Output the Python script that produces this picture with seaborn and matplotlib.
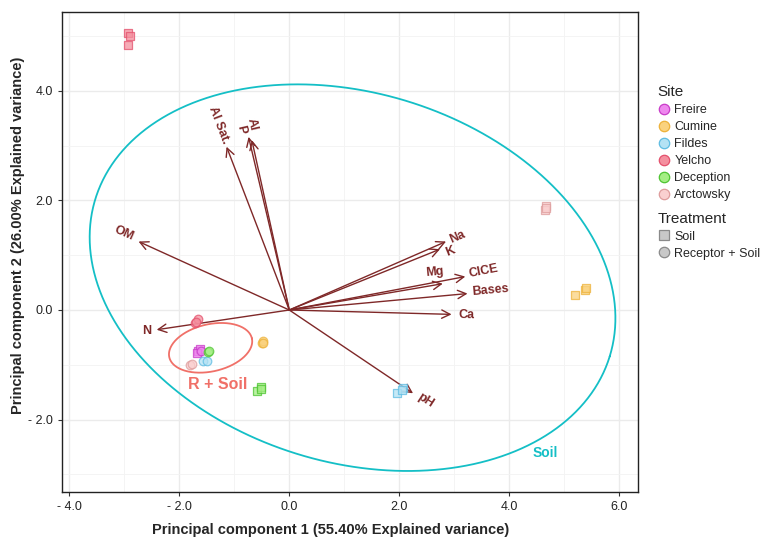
import numpy as np
import pandas as pd
import matplotlib
matplotlib.use("Agg")
import matplotlib.pyplot as plt
import seaborn as sns
from matplotlib.lines import Line2D
from matplotlib.ticker import MultipleLocator, FuncFormatter

# sample scores
sites = ["Freire", "Cumine", "Fildes", "Yelcho", "Deception", "Arctowsky"]
site_fill = ["#EE88EE", "#FAD27E", "#B4E2F4", "#F4909F", "#A4EE84", "#FAD0D0"]
site_edge = ["#C83CC8", "#EDB23A", "#5EBCE2", "#E4506C", "#4EC432", "#DE9C9C"]

point_site = ["Yelcho", "Yelcho", "Yelcho",
              "Arctowsky", "Arctowsky", "Arctowsky",
              "Cumine", "Cumine", "Cumine",
              "Fildes", "Fildes", "Fildes",
              "Deception", "Deception", "Deception",
              "Freire", "Freire", "Freire",
              "Freire", "Yelcho", "Yelcho", "Yelcho",
              "Deception", "Deception", "Fildes", "Fildes",
              "Arctowsky", "Arctowsky", "Cumine", "Cumine", "Cumine"]
point_treat = ["Soil"] * 18 + ["Receptor + Soil"] * 13
pc1 = [-2.94, -2.90, -2.94, 4.66, 4.64, 4.67, 5.19, 5.38, 5.40,
       2.06, 1.95, 2.05, -0.58, -0.52, -0.52, -1.65, -1.62, -1.67,
       -1.60, -1.72, -1.65, -1.70, -1.48, -1.45, -1.57, -1.50,
       -1.81, -1.77, -0.49, -0.47, -0.48]
pc2 = [5.05, 5.00, 4.84, 1.89, 1.83, 1.87, 0.28, 0.36, 0.41,
       -1.43, -1.52, -1.46, -1.48, -1.41, -1.45, -0.75, -0.72, -0.78,
       -0.74, -0.24, -0.16, -0.22, -0.77, -0.74, -0.93, -0.93,
       -1.00, -0.99, -0.60, -0.57, -0.60]

# variable loadings (arrow tips) and label positions
var_names = ["OM", "N", "Na", "K", "Mg", "CICE", "Bases", "Ca", "pH", "Al Sat.", "Al", "P"]
load1 = [-2.74, -2.41, 2.85, 2.74, 2.79, 3.20, 3.24, 2.95, 2.25, -1.14, -0.74, -0.68]
load2 = [1.25, -0.36, 1.25, 1.11, 0.48, 0.61, 0.30, -0.08, -1.52, 2.98, 3.16, 3.10]
lab1 = [-3.00, -2.60, 3.05, 2.93, 2.64, 3.54, 3.66, 3.22, 2.47, -1.28, -0.67, -0.87]
lab2 = [1.40, -0.39, 1.33, 1.07, 0.69, 0.70, 0.35, -0.09, -1.65, 3.38, 3.38, 3.29]
lab_rot = [-24, 0, 23, 22, 5, 11, 5, -1, -33, -69, -77, -77]

# group ellipses: center x, center y, semi-major, semi-minor, angle
soil_ell = [1.15, 0.59, 4.89, 3.37, -17.1]
rsoil_ell = [-1.43, -0.69, 0.77, 0.43, 13.0]

df = pd.DataFrame({"site": point_site, "treatment": point_treat, "PC1": pc1, "PC2": pc2})

sns.set_style("whitegrid")
plt.rcParams["font.family"] = ["Liberation Sans", "DejaVu Sans"]

fig = plt.figure(figsize=(7.63, 5.4), dpi=100)
ax = fig.add_axes([0.0813, 0.089, 0.755, 0.889])

arrow_col = "#7F2828"


def ellipse_xy(p):
    t = np.linspace(0, 2 * np.pi, 200)
    a = np.deg2rad(p[4])
    ex = p[2] * np.cos(t)
    ey = p[3] * np.sin(t)
    return (p[0] + ex * np.cos(a) - ey * np.sin(a),
            p[1] + ex * np.sin(a) + ey * np.cos(a))


ex, ey = ellipse_xy(soil_ell)
ax.plot(ex, ey, color="#14BFC6", lw=1.3, zorder=2)
ex, ey = ellipse_xy(rsoil_ell)
ax.plot(ex, ey, color="#F07068", lw=1.3, zorder=2)

for i, name in enumerate(var_names):
    ax.annotate("", xy=(load1[i], load2[i]), xytext=(0, 0),
                arrowprops=dict(arrowstyle="->", color=arrow_col, lw=1.0,
                                mutation_scale=15, shrinkA=0, shrinkB=0),
                zorder=3)
    ax.text(lab1[i], lab2[i], name, color=arrow_col, fontsize=9, fontweight="bold",
            rotation=lab_rot[i], ha="center", va="center", rotation_mode="anchor", zorder=4)

markers = {"Soil": "s", "Receptor + Soil": "o"}
for s, fc, ec in zip(sites, site_fill, site_edge):
    sub = df[df["site"] == s]
    for tr, mk in markers.items():
        part = sub[sub["treatment"] == tr]
        if len(part) == 0:
            continue
        sns.scatterplot(data=part, x="PC1", y="PC2", marker=mk, s=38,
                        color=fc, edgecolor=ec, linewidth=0.9, alpha=0.75,
                        ax=ax, legend=False, zorder=5)

ax.text(-1.30, -1.36, "R + Soil", color="#F07068", fontsize=11.5, fontweight="bold",
        ha="center", va="center")
ax.text(4.66, -2.61, "Soil", color="#14BFC6", fontsize=10, fontweight="bold",
        ha="center", va="center")

ax.set_xlim(-4.13, 6.34)
ax.set_ylim(-3.32, 5.44)
ax.xaxis.set_major_locator(MultipleLocator(2))
ax.yaxis.set_major_locator(MultipleLocator(2))
ax.xaxis.set_minor_locator(MultipleLocator(1))
ax.yaxis.set_minor_locator(MultipleLocator(1))
fmt = FuncFormatter(lambda v, p: ("- %.1f" % abs(v)) if v < -1e-9 else "%.1f" % abs(v))
ax.xaxis.set_major_formatter(fmt)
ax.yaxis.set_major_formatter(fmt)
ax.grid(which="major", color="#EBEBEB", lw=1.0)
ax.grid(which="minor", color="#F3F3F3", lw=0.6)
ax.set_axisbelow(True)
ax.tick_params(which="major", direction="out", length=3, width=0.8, color="#333333",
               labelsize=9, labelcolor="#222222", bottom=True, left=True)
ax.tick_params(which="minor", length=0)
for sp in ax.spines.values():
    sp.set_color("#222222")
    sp.set_linewidth(1.0)

ax.set_xlabel("Principal component 1 (55.40% Explained variance)", fontsize=10.5,
              fontweight="bold")
ax.set_ylabel("Principal component 2 (26.00% Explained variance)", fontsize=10.5,
              fontweight="bold")
ax.xaxis.set_label_coords(0.467, -0.065)
ax.yaxis.set_label_coords(-0.064, 0.535)

site_handles = [Line2D([], [], marker="o", ls="", markersize=7.5, markerfacecolor=fc,
                       markeredgecolor=ec, markeredgewidth=0.9)
                for fc, ec in zip(site_fill, site_edge)]
leg1 = fig.legend(site_handles, sites, title="Site", loc="upper left",
                  bbox_to_anchor=(0.855, 0.851), frameon=False, fontsize=9,
                  title_fontsize=11, handletextpad=0.35, labelspacing=0.4,
                  handlelength=1.0, borderaxespad=0)
leg1._legend_box.align = "left"
treat_handles = [Line2D([], [], marker="s", ls="", markersize=7.5, markerfacecolor="#C8C8C8",
                        markeredgecolor="#8A8A8A", markeredgewidth=0.9),
                 Line2D([], [], marker="o", ls="", markersize=7.5, markerfacecolor="#C8C8C8",
                        markeredgecolor="#8A8A8A", markeredgewidth=0.9)]
leg2 = fig.legend(treat_handles, ["Soil", "Receptor + Soil"], title="Treatment",
                  loc="upper left", bbox_to_anchor=(0.855, 0.617), frameon=False,
                  fontsize=9, title_fontsize=11, handletextpad=0.35, labelspacing=0.4,
                  handlelength=1.0, borderaxespad=0)
leg2._legend_box.align = "left"

fig.savefig("out.png", dpi=100)
